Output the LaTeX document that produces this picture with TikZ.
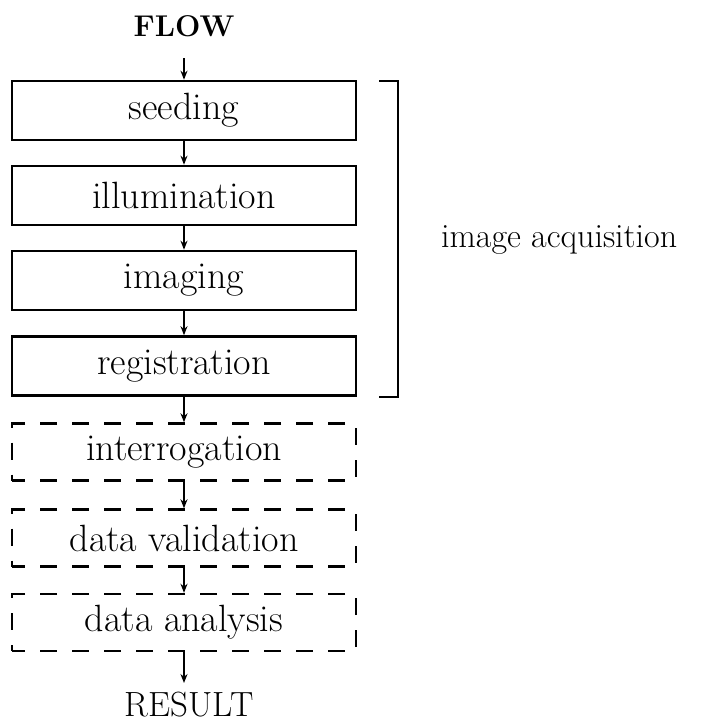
\documentclass[tikz,border=0pt]{standalone}
\usetikzlibrary{arrows.meta}
\begin{document}
\begin{tikzpicture}[x=1pt,y=-1pt,
  txt/.style={font=\fontsize{38}{44}\selectfont, inner sep=0pt},
  solidbox/.style={draw, line width=2.6pt, minimum width=344pt, minimum height=59pt, txt},
  dashbox/.style={draw, line width=2.4pt, dash pattern=on 17pt off 15pt, dash phase=4pt, minimum width=344pt, minimum height=57pt, txt},
  flowarrow/.style={line width=2pt, -{Stealth[length=9pt,width=7pt]}},
]
\useasboundingbox (0,0) rectangle (712,724);
\node[font=\fontsize{30}{36}\selectfont\bfseries, inner sep=0pt] (flow) at (184,26) {FLOW};
\node[solidbox] (seed) at (184,110.5) {seeding};
\node[solidbox] (illum) at (184,195.5) {illumination};
\node[solidbox] (imag) at (184,280.5) {imaging};
\node[solidbox] (reg) at (184,366) {registration};
\node[dashbox] (inter) at (184,452) {interrogation};
\node[dashbox] (valid) at (184,538) {data validation};
\node[dashbox] (anal) at (184,622.5) {data analysis};
\node[font=\fontsize{35}{40}\selectfont, inner sep=0pt] (result) at (189,705) {RESULT};
\draw[flowarrow] (184,58) -- (seed.north);
\draw[flowarrow] (seed) -- (illum);
\draw[flowarrow] (illum) -- (imag);
\draw[flowarrow] (imag) -- (reg);
\draw[flowarrow] (reg) -- (inter);
\draw[flowarrow] (inter) -- (valid);
\draw[flowarrow] (valid) -- (anal);
\draw[flowarrow] (anal.south) -- (184,683);
\coordinate (bt) at (379,81);
\coordinate (bb) at (379,397);
\draw[line width=2.2pt] (bt) -- (398,81) -- (398,397) -- (bb);
\node[font=\fontsize{34}{40}\selectfont, inner sep=0pt, anchor=west] (acq) at (441,240) {image acquisition};
\end{tikzpicture}
\end{document}
